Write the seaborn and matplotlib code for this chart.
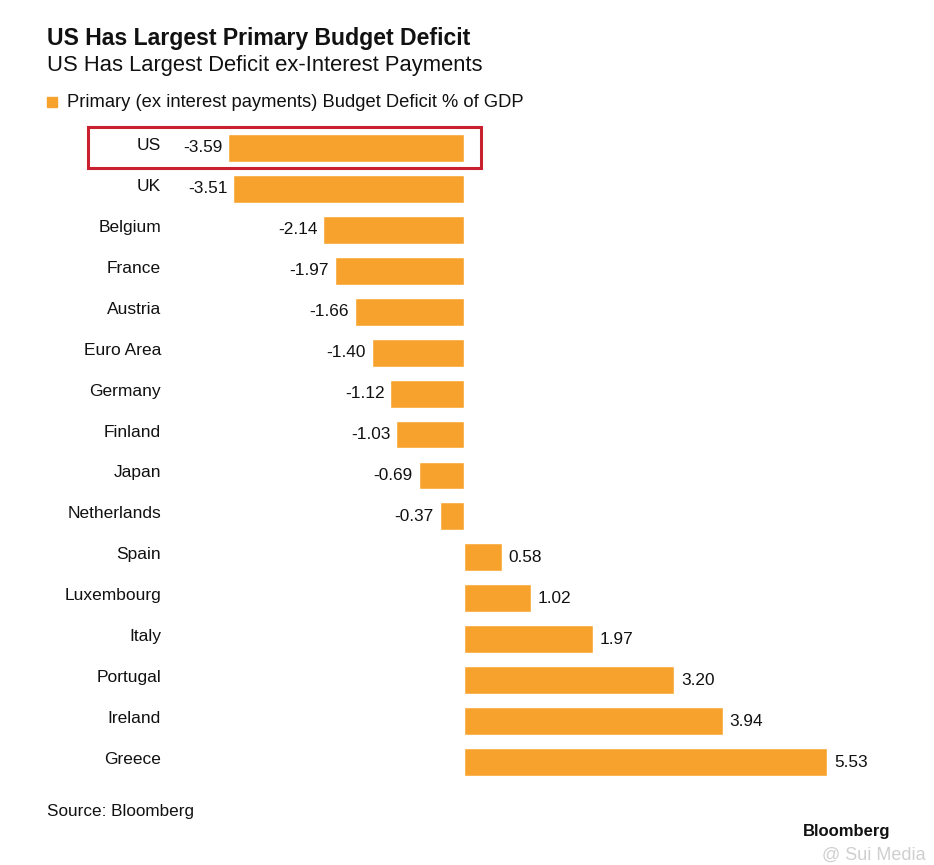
import numpy as np
import pandas as pd
import matplotlib.pyplot as plt
import matplotlib.transforms as mtransforms
import seaborn as sns
from matplotlib.patches import Rectangle

countries = ['US', 'UK', 'Belgium', 'France', 'Austria', 'Euro Area', 'Germany', 'Finland',
             'Japan', 'Netherlands', 'Spain', 'Luxembourg', 'Italy', 'Portugal', 'Ireland', 'Greece']
deficit = [-3.59, -3.51, -2.14, -1.97, -1.66, -1.40, -1.12, -1.03,
           -0.69, -0.37, 0.58, 1.02, 1.97, 3.20, 3.94, 5.53]
labels = ['-3.59', '-3.51', '-2.14', '-1.97', '-1.66', '-1.40', '-1.12', '-1.03',
          '-0.69', '-0.37', '0.58', '1.02', '1.97', '3.20', '3.94', '5.53']

df = pd.DataFrame({'country': countries, 'value': deficit})

sns.set_style('white')
plt.rcParams['font.family'] = ['Liberation Sans', 'DejaVu Sans']

W, H = 934, 865
fig = plt.figure(figsize=(W / 100, H / 100), dpi=100)
fig.patch.set_facecolor('white')

# axes in pixel terms: x 170..900, y 127.5..782.5
ax = fig.add_axes([170 / W, 1 - 782.5 / H, 730 / W, 655 / H])
orange = '#F8A22E'
sns.barplot(data=df, x='value', y='country', color=orange, width=0.68,
            saturation=1, ax=ax)

ax.set_xlim(-(464 - 170) / 65.7, (900 - 464) / 65.7)
ax.set_ylim(len(countries) - 0.5, -0.5)
ax.set_xlabel('')
ax.set_ylabel('')
ax.set_xticks([])
for s in ax.spines.values():
    s.set_visible(False)
ax.tick_params(axis='y', length=0, pad=6.5, labelsize=12.5, labelcolor='#111111')
# country names sit a little above the bar centre
up = mtransforms.ScaledTranslation(0, 4 / 100, fig.dpi_scale_trans)
for t in ax.get_yticklabels():
    t.set_transform(t.get_transform() + up)

for i, (v, lab) in enumerate(zip(deficit, labels)):
    if v < 0:
        ax.text(v - 0.09, i, lab, ha='right', va='center', fontsize=12.4, color='#111111')
    else:
        ax.text(v + 0.1, i, lab, ha='left', va='center', fontsize=12.4, color='#111111')

# highlight box around US
fig.patches.append(Rectangle((88 / W, 1 - 168 / H), (481 - 88) / W, (168 - 127) / H,
                             transform=fig.transFigure, fill=False,
                             edgecolor='#C8202F', linewidth=2.2))

fig.text(47 / W, 1 - 45 / H, 'US Has Largest Primary Budget Deficit',
         fontsize=16.6, fontweight='bold', color='#111111', va='baseline')
fig.text(47 / W, 1 - 71 / H, 'US Has Largest Deficit ex-Interest Payments',
         fontsize=15.8, color='#111111', va='baseline')
fig.patches.append(Rectangle((47 / W, 1 - 107 / H), 10 / W, 10 / H,
                             transform=fig.transFigure, color=orange))
fig.text(67 / W, 1 - 107 / H, 'Primary (ex interest payments) Budget Deficit % of GDP',
         fontsize=13.2, color='#111111', va='baseline')
fig.text(47 / W, 1 - 816 / H, 'Source: Bloomberg', fontsize=12.3, color='#111111', va='baseline')
fig.text(890 / W, 1 - 836 / H, 'Bloomberg', fontsize=12, fontweight='bold',
         color='#111111', ha='right', va='baseline')
fig.text(926 / W, 1 - 860 / H, '@ Sui Media', fontsize=13, color='#BBBBBB',
         alpha=0.7, ha='right', va='baseline')

fig.savefig('out.png', dpi=100)
